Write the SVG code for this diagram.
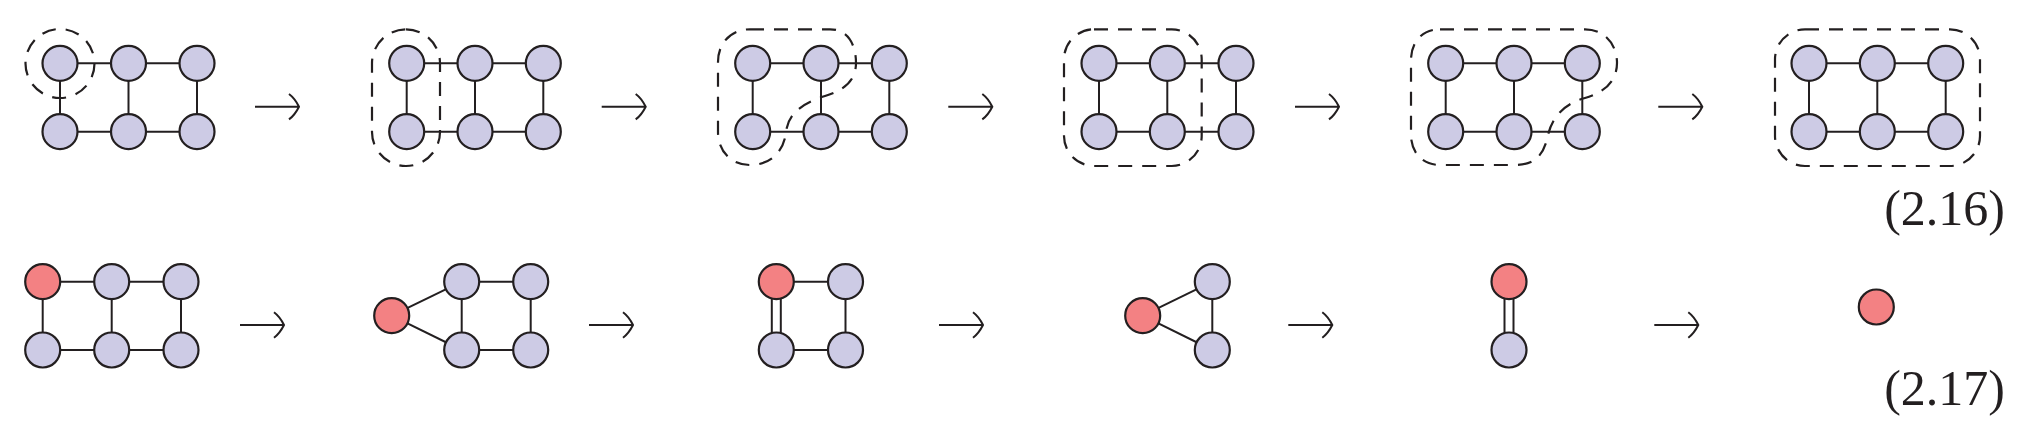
<svg xmlns="http://www.w3.org/2000/svg" xmlns:xlink="http://www.w3.org/1999/xlink" width="2023" height="430" viewBox="0 0 2023 430">
<style>
.n{fill:#CDCBE5;stroke:#231F20;stroke-width:2.2}
.r{fill:#F38183;stroke:#231F20;stroke-width:2.2}
.e line{stroke:#231F20;stroke-width:2}
.d{fill:none;stroke:#231F20;stroke-width:2.2;stroke-dasharray:14 10}
.a{fill:none;stroke:#231F20;stroke-width:2}
.t{font-family:"Liberation Serif","Times New Roman",serif;font-size:50px;fill:#231F20}
</style>
<defs>
<path id="arr" class="a" d="M0 0 H44 M34 -12.7 C39 -9 42 -4 44 0 C42 4 39 9 34 12.7"/>
</defs>
<rect width="2023" height="430" fill="#fff"/>
<g id="groupings">
<circle class="d" cx="60" cy="63.5" r="34.5"/>
<rect class="d" x="372" y="29.3" width="68" height="136.7" rx="34"/>
<path class="d" d="M750 29.3 L830 29.3 C848 29.3 856 45 856 63 C856 80 845 90 825 96 C800 104 788 115 786 132 C784 152 770 165 750 165 C730 165 718 150 718 132 L718 62 C718 42 732 29.3 750 29.3 Z"/>
<rect class="d" x="1064" y="29.3" width="137.7" height="136.7" rx="30"/>
<path class="d" d="M1440 29.3 L1585 29.3 C1605 29.3 1617 45 1617 63 C1617 82 1603 93 1585 98 C1563 104 1552 118 1548 135 C1544 155 1535 165 1515 165 L1440 165 C1422 165 1411 152 1411 135 L1411 60 C1411 42 1422 29.3 1440 29.3 Z"/>
<rect class="d" x="1775" y="29.3" width="205" height="136.7" rx="30"/>
</g>
<g id="connectors" class="e">
<line x1="60" y1="63.3" x2="128.5" y2="63.3"/><line x1="128.5" y1="63.3" x2="197" y2="63.3"/><line x1="60" y1="131.7" x2="128.5" y2="131.7"/><line x1="128.5" y1="131.7" x2="197" y2="131.7"/><line x1="60" y1="63.3" x2="60" y2="131.7"/><line x1="128.5" y1="63.3" x2="128.5" y2="131.7"/><line x1="197" y1="63.3" x2="197" y2="131.7"/>
<line x1="406.7" y1="63.3" x2="475" y2="63.3"/><line x1="475" y1="63.3" x2="543.3" y2="63.3"/><line x1="406.7" y1="131.7" x2="475" y2="131.7"/><line x1="475" y1="131.7" x2="543.3" y2="131.7"/><line x1="406.7" y1="63.3" x2="406.7" y2="131.7"/><line x1="475" y1="63.3" x2="475" y2="131.7"/><line x1="543.3" y1="63.3" x2="543.3" y2="131.7"/>
<line x1="752.7" y1="63.3" x2="821" y2="63.3"/><line x1="821" y1="63.3" x2="889.3" y2="63.3"/><line x1="752.7" y1="131.7" x2="821" y2="131.7"/><line x1="821" y1="131.7" x2="889.3" y2="131.7"/><line x1="752.7" y1="63.3" x2="752.7" y2="131.7"/><line x1="821" y1="63.3" x2="821" y2="131.7"/><line x1="889.3" y1="63.3" x2="889.3" y2="131.7"/>
<line x1="1099" y1="63.3" x2="1167.3" y2="63.3"/><line x1="1167.3" y1="63.3" x2="1236" y2="63.3"/><line x1="1099" y1="131.7" x2="1167.3" y2="131.7"/><line x1="1167.3" y1="131.7" x2="1236" y2="131.7"/><line x1="1099" y1="63.3" x2="1099" y2="131.7"/><line x1="1167.3" y1="63.3" x2="1167.3" y2="131.7"/><line x1="1236" y1="63.3" x2="1236" y2="131.7"/>
<line x1="1445.7" y1="63.3" x2="1514" y2="63.3"/><line x1="1514" y1="63.3" x2="1582.3" y2="63.3"/><line x1="1445.7" y1="131.7" x2="1514" y2="131.7"/><line x1="1514" y1="131.7" x2="1582.3" y2="131.7"/><line x1="1445.7" y1="63.3" x2="1445.7" y2="131.7"/><line x1="1514" y1="63.3" x2="1514" y2="131.7"/><line x1="1582.3" y1="63.3" x2="1582.3" y2="131.7"/>
<line x1="1809" y1="63.3" x2="1877.3" y2="63.3"/><line x1="1877.3" y1="63.3" x2="1945.7" y2="63.3"/><line x1="1809" y1="131.7" x2="1877.3" y2="131.7"/><line x1="1877.3" y1="131.7" x2="1945.7" y2="131.7"/><line x1="1809" y1="63.3" x2="1809" y2="131.7"/><line x1="1877.3" y1="63.3" x2="1877.3" y2="131.7"/><line x1="1945.7" y1="63.3" x2="1945.7" y2="131.7"/>
<line x1="42.7" y1="281.7" x2="111.7" y2="281.7"/><line x1="111.7" y1="281.7" x2="181" y2="281.7"/><line x1="42.7" y1="350" x2="111.7" y2="350"/><line x1="111.7" y1="350" x2="181" y2="350"/><line x1="42.7" y1="281.7" x2="42.7" y2="350"/><line x1="111.7" y1="281.7" x2="111.7" y2="350"/><line x1="181" y1="281.7" x2="181" y2="350"/>
<line x1="391.7" y1="315.7" x2="461.7" y2="281.7"/><line x1="391.7" y1="315.7" x2="461.7" y2="350"/><line x1="461.7" y1="281.7" x2="530.7" y2="281.7"/><line x1="461.7" y1="350" x2="530.7" y2="350"/><line x1="461.7" y1="281.7" x2="461.7" y2="350"/><line x1="530.7" y1="281.7" x2="530.7" y2="350"/>
<line x1="776.3" y1="281.7" x2="845.5" y2="281.7"/><line x1="776.3" y1="350" x2="845.5" y2="350"/><line x1="845.5" y1="281.7" x2="845.5" y2="350"/><line x1="771.8" y1="281.7" x2="771.8" y2="350"/><line x1="780.8" y1="281.7" x2="780.8" y2="350"/>
<line x1="1142.7" y1="315.7" x2="1212.3" y2="281.7"/><line x1="1142.7" y1="315.7" x2="1212.3" y2="350"/><line x1="1212.3" y1="281.7" x2="1212.3" y2="350"/>
<line x1="1504.5" y1="281.7" x2="1504.5" y2="350"/><line x1="1513.5" y1="281.7" x2="1513.5" y2="350"/>
</g>
<g id="transitions">
<use href="#arr" x="255" y="106.7"/><use href="#arr" x="601.7" y="106.7"/><use href="#arr" x="948.3" y="106.7"/><use href="#arr" x="1295" y="106.7"/><use href="#arr" x="1658.3" y="106.7"/>
<use href="#arr" x="240" y="325"/><use href="#arr" x="589" y="325"/><use href="#arr" x="939" y="325"/><use href="#arr" x="1288.3" y="325"/><use href="#arr" x="1654.3" y="325"/>
</g>
<g id="r1g1-n1"><circle class="n" cx="60" cy="63.3" r="17.5"/></g>
<g id="r1g1-n2"><circle class="n" cx="128.5" cy="63.3" r="17.5"/></g>
<g id="r1g1-n3"><circle class="n" cx="197" cy="63.3" r="17.5"/></g>
<g id="r1g1-n4"><circle class="n" cx="60" cy="131.7" r="17.5"/></g>
<g id="r1g1-n5"><circle class="n" cx="128.5" cy="131.7" r="17.5"/></g>
<g id="r1g1-n6"><circle class="n" cx="197" cy="131.7" r="17.5"/></g>
<g id="r1g2-n1"><circle class="n" cx="406.7" cy="63.3" r="17.5"/></g>
<g id="r1g2-n2"><circle class="n" cx="475" cy="63.3" r="17.5"/></g>
<g id="r1g2-n3"><circle class="n" cx="543.3" cy="63.3" r="17.5"/></g>
<g id="r1g2-n4"><circle class="n" cx="406.7" cy="131.7" r="17.5"/></g>
<g id="r1g2-n5"><circle class="n" cx="475" cy="131.7" r="17.5"/></g>
<g id="r1g2-n6"><circle class="n" cx="543.3" cy="131.7" r="17.5"/></g>
<g id="r1g3-n1"><circle class="n" cx="752.7" cy="63.3" r="17.5"/></g>
<g id="r1g3-n2"><circle class="n" cx="821" cy="63.3" r="17.5"/></g>
<g id="r1g3-n3"><circle class="n" cx="889.3" cy="63.3" r="17.5"/></g>
<g id="r1g3-n4"><circle class="n" cx="752.7" cy="131.7" r="17.5"/></g>
<g id="r1g3-n5"><circle class="n" cx="821" cy="131.7" r="17.5"/></g>
<g id="r1g3-n6"><circle class="n" cx="889.3" cy="131.7" r="17.5"/></g>
<g id="r1g4-n1"><circle class="n" cx="1099" cy="63.3" r="17.5"/></g>
<g id="r1g4-n2"><circle class="n" cx="1167.3" cy="63.3" r="17.5"/></g>
<g id="r1g4-n3"><circle class="n" cx="1236" cy="63.3" r="17.5"/></g>
<g id="r1g4-n4"><circle class="n" cx="1099" cy="131.7" r="17.5"/></g>
<g id="r1g4-n5"><circle class="n" cx="1167.3" cy="131.7" r="17.5"/></g>
<g id="r1g4-n6"><circle class="n" cx="1236" cy="131.7" r="17.5"/></g>
<g id="r1g5-n1"><circle class="n" cx="1445.7" cy="63.3" r="17.5"/></g>
<g id="r1g5-n2"><circle class="n" cx="1514" cy="63.3" r="17.5"/></g>
<g id="r1g5-n3"><circle class="n" cx="1582.3" cy="63.3" r="17.5"/></g>
<g id="r1g5-n4"><circle class="n" cx="1445.7" cy="131.7" r="17.5"/></g>
<g id="r1g5-n5"><circle class="n" cx="1514" cy="131.7" r="17.5"/></g>
<g id="r1g5-n6"><circle class="n" cx="1582.3" cy="131.7" r="17.5"/></g>
<g id="r1g6-n1"><circle class="n" cx="1809" cy="63.3" r="17.5"/></g>
<g id="r1g6-n2"><circle class="n" cx="1877.3" cy="63.3" r="17.5"/></g>
<g id="r1g6-n3"><circle class="n" cx="1945.7" cy="63.3" r="17.5"/></g>
<g id="r1g6-n4"><circle class="n" cx="1809" cy="131.7" r="17.5"/></g>
<g id="r1g6-n5"><circle class="n" cx="1877.3" cy="131.7" r="17.5"/></g>
<g id="r1g6-n6"><circle class="n" cx="1945.7" cy="131.7" r="17.5"/></g>
<g id="r2g1-n1"><circle class="r" cx="42.7" cy="281.7" r="17.5"/></g>
<g id="r2g1-n2"><circle class="n" cx="111.7" cy="281.7" r="17.5"/></g>
<g id="r2g1-n3"><circle class="n" cx="181" cy="281.7" r="17.5"/></g>
<g id="r2g1-n4"><circle class="n" cx="42.7" cy="350" r="17.5"/></g>
<g id="r2g1-n5"><circle class="n" cx="111.7" cy="350" r="17.5"/></g>
<g id="r2g1-n6"><circle class="n" cx="181" cy="350" r="17.5"/></g>
<g id="r2g2-n1"><circle class="r" cx="391.7" cy="315.7" r="17.5"/></g>
<g id="r2g2-n2"><circle class="n" cx="461.7" cy="281.7" r="17.5"/></g>
<g id="r2g2-n3"><circle class="n" cx="530.7" cy="281.7" r="17.5"/></g>
<g id="r2g2-n4"><circle class="n" cx="461.7" cy="350" r="17.5"/></g>
<g id="r2g2-n5"><circle class="n" cx="530.7" cy="350" r="17.5"/></g>
<g id="r2g3-n1"><circle class="r" cx="776.3" cy="281.7" r="17.5"/></g>
<g id="r2g3-n2"><circle class="n" cx="845.5" cy="281.7" r="17.5"/></g>
<g id="r2g3-n3"><circle class="n" cx="776.3" cy="350" r="17.5"/></g>
<g id="r2g3-n4"><circle class="n" cx="845.5" cy="350" r="17.5"/></g>
<g id="r2g4-n1"><circle class="r" cx="1142.7" cy="315.7" r="17.5"/></g>
<g id="r2g4-n2"><circle class="n" cx="1212.3" cy="281.7" r="17.5"/></g>
<g id="r2g4-n3"><circle class="n" cx="1212.3" cy="350" r="17.5"/></g>
<g id="r2g5-n1"><circle class="r" cx="1509" cy="281.7" r="17.5"/></g>
<g id="r2g5-n2"><circle class="n" cx="1509" cy="350" r="17.5"/></g>
<g id="r2g6-n1"><circle class="r" cx="1876.3" cy="307" r="17.5"/></g>
<text class="t" x="2005" y="225" text-anchor="end">(2.16)</text>
<text class="t" x="2005" y="405" text-anchor="end">(2.17)</text>
</svg>
